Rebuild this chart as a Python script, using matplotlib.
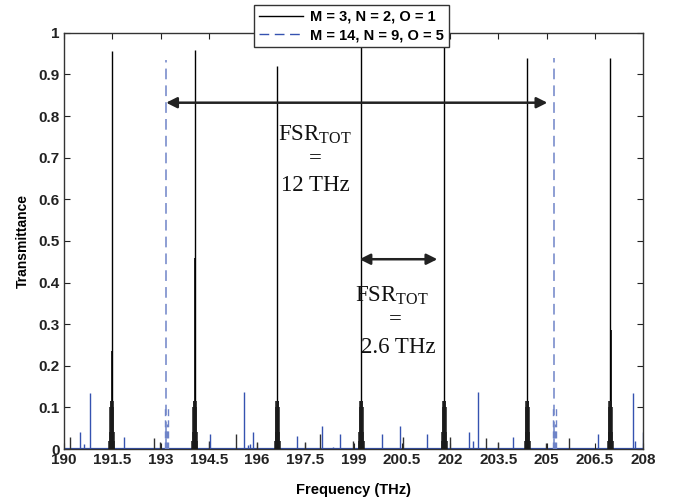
import numpy as np
import matplotlib.pyplot as plt
from matplotlib.lines import Line2D

# --- data ---
# M = 3, N = 2, O = 1 (black, solid): main resonances every ~2.6 THz
black_centers = [191.48, 194.06, 196.63, 199.23, 201.81, 204.40, 206.98]
black_peaks = [0.955, 0.958, 0.92, 1.0, 1.0, 0.94, 0.94]
black_second = [0.235, 0.46, 0.115, 0.115, 0.115, 0.115, 0.285]
# fine structure around every black resonance (offset THz, height)
cluster_offsets = [-0.08, -0.06, -0.045, -0.03, -0.015, 0.015, 0.03, 0.045, 0.06, 0.08]
cluster_heights = [0.02, 0.04, 0.10, 0.115, 0.115, 0.115, 0.115, 0.10, 0.04, 0.02]
# small black side spikes
black_side_f = [190.19, 192.78, 192.98, 194.49, 195.35, 195.99, 197.49, 197.94,
                198.98, 200.52, 202.00, 203.12, 203.50, 204.99, 205.70]
black_side_t = [0.030, 0.026, 0.018, 0.020, 0.035, 0.018, 0.018, 0.035,
                0.020, 0.028, 0.030, 0.026, 0.018, 0.015, 0.026]

# M = 14, N = 9, O = 5 (blue, dashed): main resonances every ~12 THz
blue_centers = [193.18, 205.24]
blue_peaks = [0.935, 0.94]
blue_cluster_offsets = [-0.04, -0.015, 0.015, 0.04]
blue_cluster_heights = [0.10, 0.05, 0.06, 0.10]
blue_side_f = [190.48, 190.63, 190.79, 191.87, 194.54, 195.60, 195.72, 195.78,
               195.88, 197.23, 198.03, 198.35, 198.58, 199.87, 200.44, 201.28,
               202.57, 202.71, 202.86, 203.95, 206.60, 207.68, 207.75, 207.99]
blue_side_t = [0.042, 0.012, 0.135, 0.030, 0.037, 0.136, 0.010, 0.012,
               0.042, 0.032, 0.056, 0.005, 0.035, 0.037, 0.055, 0.035,
               0.040, 0.020, 0.136, 0.028, 0.035, 0.134, 0.020, 0.042]

x_ticks = [190, 191.5, 193, 194.5, 196, 197.5, 199, 200.5, 202, 203.5, 205, 206.5, 208]
x_labels = ["190", "191.5", "193", "194.5", "196", "197.5", "199", "200.5",
            "202", "203.5", "205", "206.5", "208"]
y_ticks = [0, 0.1, 0.2, 0.3, 0.4, 0.5, 0.6, 0.7, 0.8, 0.9, 1]
y_labels = ["0", "0.1", "0.2", "0.3", "0.4", "0.5", "0.6", "0.7", "0.8", "0.9", "1"]

fsr_big = (193.17, 205.02, 0.832)    # arrow start, end, level
fsr_small = (199.18, 201.60, 0.456)

plt.rcParams["font.family"] = ["Liberation Sans", "DejaVu Sans"]
plt.rcParams["mathtext.fontset"] = "custom"
plt.rcParams["mathtext.rm"] = "Liberation Serif"

BLUE = "#3552b0"
BLUE_LIGHT = "#6f84c8"

fig = plt.figure(figsize=(6.75, 5.04), dpi=100)
ax = fig.add_axes([0.095, 0.109, 0.858, 0.826])

# baseline
ax.axhline(0, color=BLUE, lw=1.6, zorder=1)

# black series
cf = np.asarray(black_centers)
ax.vlines(cf, 0, black_peaks, color="black", lw=1.0, zorder=3)
ax.vlines(cf + 0.012, 0, black_second, color="black", lw=1.2, zorder=3)
for c in cf:
    ax.vlines(c + np.asarray(cluster_offsets), 0, cluster_heights,
              color="#1a1a1a", lw=1.1, zorder=3)
ax.vlines(black_side_f, 0, black_side_t, color="#303030", lw=1.0, zorder=2)

# blue series
ax.vlines(blue_centers, 0, blue_peaks, color=BLUE_LIGHT, lw=1.1,
          linestyles=(0, (7, 4)), zorder=4)
for c in blue_centers:
    ax.vlines(c + np.asarray(blue_cluster_offsets), 0, blue_cluster_heights,
              color=BLUE_LIGHT, lw=1.0, linestyles=(0, (5, 3)), zorder=4)
ax.vlines(blue_side_f, 0, blue_side_t, color=BLUE, lw=1.0, zorder=2)

ax.set_xlim(x_ticks[0], x_ticks[-1])
ax.set_ylim(0, 1)
ax.set_xticks(x_ticks)
ax.set_xticklabels(x_labels)
ax.set_yticks(y_ticks)
ax.set_yticklabels(y_labels)
ax.tick_params(direction="in", top=True, right=True, length=4, width=0.8,
               labelsize=11, pad=3, colors="#222222")
for lab in ax.get_xticklabels() + ax.get_yticklabels():
    lab.set_fontweight("bold")
for sp in ax.spines.values():
    sp.set_color("#333333")
    sp.set_linewidth(1.0)

ax.set_xlabel("Frequency (THz)", fontsize=10.5, fontweight="bold", labelpad=11)
ax.set_ylabel("Transmittance", fontsize=10, fontweight="bold", labelpad=6)

# FSR arrows and text
arrow_kw = dict(arrowstyle="<|-|>", color="#222222", lw=1.8,
                mutation_scale=16, shrinkA=0, shrinkB=0)
ax.annotate("", xy=(fsr_big[1], fsr_big[2]), xytext=(fsr_big[0], fsr_big[2]),
            arrowprops=arrow_kw)
ax.annotate("", xy=(fsr_small[1], fsr_small[2]), xytext=(fsr_small[0], fsr_small[2]),
            arrowprops=arrow_kw)

serif = dict(family="Liberation Serif", fontsize=16.5, ha="center", va="center",
             color="#111111")
ax.text(197.8, 0.755, r"FSR$_{\mathrm{TOT}}$", **serif)
ax.text(197.8, 0.698, "=", **serif)
ax.text(197.8, 0.633, "12 THz", **serif)
ax.text(200.2, 0.368, r"FSR$_{\mathrm{TOT}}$", **serif)
ax.text(200.3, 0.312, "=", **serif)
ax.text(200.4, 0.243, "2.6 THz", **serif)

handles = [Line2D([], [], color="black", lw=1.0),
           Line2D([], [], color=BLUE, lw=1.0, ls=(0, (7, 4)))]
leg = ax.legend(handles, ["M = 3, N = 2, O = 1", "M = 14, N = 9, O = 5"],
                loc="upper center", bbox_to_anchor=(0.496, 1.085),
                fancybox=False, framealpha=1, edgecolor="#333333",
                prop=dict(weight="bold", size=10.5), handlelength=3.0,
                borderpad=0.35, labelspacing=0.3, handletextpad=0.5)
leg.get_frame().set_linewidth(1.0)
leg.set_zorder(10)

fig.savefig("out.png", dpi=100)
